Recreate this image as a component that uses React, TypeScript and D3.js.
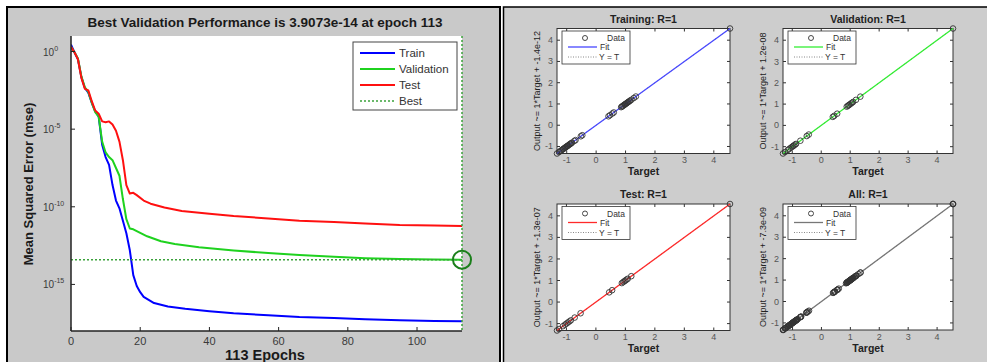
// MATLAB nntool style figure: performance curve on the left, 2x2 regression grid on the right.
import * as d3 from "d3";

const FONT = "'Liberation Sans', Arial, sans-serif";

// ---- performance data (log10 of mse) ----
const trainEpochs = [0, 1, 2, 3, 4, 5, 6, 7, 8, 9, 10, 11, 12, 13, 14, 15, 16, 17, 18, 19, 20, 21, 24, 28, 33, 40, 47, 57, 66, 76, 85, 95, 105, 113];
const trainLog = [0.45, -0.05, -0.5, -1.65, -2.35, -2.65, -3.3, -3.85, -4.2, -6.0, -6.8, -7.3, -8.6, -9.6, -10.1, -10.9, -11.7, -12.8, -14.4, -15.1, -15.5, -15.8, -16.2, -16.42, -16.57, -16.73, -16.86, -16.99, -17.1, -17.16, -17.25, -17.31, -17.35, -17.38];

const valEpochs = [0, 1, 2, 3, 4, 5, 6, 7, 8, 9, 10, 11, 12, 13, 14, 15, 16, 17, 18, 20, 22, 26, 30, 37, 47, 57, 66, 76, 85, 95, 105, 113];
const valLog = [0.3, -0.05, -0.45, -1.6, -2.3, -2.6, -3.3, -3.9, -4.2, -5.8, -6.5, -6.8, -7.0, -7.5, -8.0, -9.5, -10.8, -11.4, -11.45, -11.68, -11.9, -12.22, -12.4, -12.6, -12.81, -12.98, -13.11, -13.22, -13.31, -13.37, -13.4, -13.41];

const testEpochs = [0, 1, 2, 3, 4, 5, 6, 7, 8, 9, 10, 11, 12, 13, 14, 15, 16, 17, 18, 19, 21, 23, 27, 32, 40, 47, 57, 66, 76, 85, 95, 105, 113];
const testLog = [0.3, -0.05, -0.5, -1.7, -2.4, -2.5, -3.2, -3.8, -4.0, -4.5, -4.55, -4.5, -4.7, -5.1, -5.8, -7.0, -8.6, -9.15, -9.1, -9.25, -9.6, -9.8, -10.05, -10.27, -10.45, -10.6, -10.75, -10.9, -10.98, -11.08, -11.17, -11.2, -11.24];

const bestEpoch = 113;
const bestPerf = 3.9073e-14;
const epochTicks = [0, 20, 40, 60, 80, 100];
const mseTickExps = [0, -5, -10, -15];

// ---- regression data (targets; outputs equal targets, R=1) ----
const trainTargets = [-1.33, -1.26, -1.22, -1.18, -1.15, -1.12, -1.1, -1.07, -1.05, -1.03, -1.0, -0.98, -0.96, -0.93, -0.9, -0.88, -0.85, -0.82, -0.74, -0.7, -0.52, -0.47, 0.42, 0.47, 0.55, 0.6, 0.85, 0.88, 0.9, 0.93, 0.96, 0.98, 1.0, 1.03, 1.05, 1.08, 1.1, 1.13, 1.16, 1.2, 1.28, 1.35, 4.55];
const valTargets = [-1.32, -1.25, -1.15, -1.1, -1.05, -1.0, -0.97, -0.94, -0.9, -0.87, -0.72, -0.5, -0.43, 0.4, 0.45, 0.55, 0.88, 0.92, 0.95, 0.98, 1.02, 1.06, 1.1, 1.2, 1.35, 4.55];
const testTargets = [-1.32, -1.25, -1.12, -1.05, -1.0, -0.95, -0.9, -0.85, -0.72, -0.52, 0.45, 0.55, 0.88, 0.93, 0.97, 1.0, 1.04, 1.08, 1.2, 4.55];
const allTargets = [...trainTargets, ...valTargets, ...testTargets];
const regTicks = [-1, 0, 1, 2, 3, 4];

type Pt = [number, number];
const zip = (xs: number[], ys: number[]): Pt[] => xs.map((x, i) => [x, ys[i]]);

function PerfPlot() {
  const L = 71, R = 462, T = 36, B = 331;
  const x = d3.scaleLinear().domain([0, 113]).range([L, R]);
  const y = d3.scaleLog().domain([1e-18, 10]).range([B, T]);
  const line = d3.line<Pt>().x((d) => x(d[0])).y((d) => y(Math.pow(10, d[1])));
  const series = [
    { name: "Train", color: "#0000ff", pts: zip(trainEpochs, trainLog) },
    { name: "Validation", color: "#1fd21f", pts: zip(valEpochs, valLog) },
    { name: "Test", color: "#ff1010", pts: zip(testEpochs, testLog) },
  ];
  const bestY = y(bestPerf);
  const bestColor = "#3aa23a";
  const legend = [...series.map((s) => ({ name: s.name, color: s.color, dash: "" })), { name: "Best", color: bestColor, dash: "2,2" }];
  const lx = 353, ly = 42;
  return (
    <g fontFamily={FONT}>
      <rect x={7} y={7} width={493} height={370} fill="#c9c9c9" stroke="#000" strokeWidth={2} />
      <rect x={L} y={T} width={R - L} height={B - T} fill="#fff" />
      <text x={265} y={27} textAnchor="middle" fontWeight="bold" fontSize={13.5} fill="#1a1a1a">
        Best Validation Performance is 3.9073e-14 at epoch 113
      </text>
      <defs>
        <clipPath id="perfClip"><rect x={L} y={T} width={R - L + 1} height={B - T} /></clipPath>
      </defs>
      <g clipPath="url(#perfClip)">
        {series.map((s) => (
          <path key={s.name} d={line(s.pts) ?? ""} fill="none" stroke={s.color} strokeWidth={2} strokeLinejoin="round" />
        ))}
      </g>
      <line x1={L} x2={R} y1={bestY} y2={bestY} stroke={bestColor} strokeWidth={1.5} strokeDasharray="2,2" />
      <line x1={x(bestEpoch)} x2={x(bestEpoch)} y1={T} y2={B} stroke={bestColor} strokeWidth={1.5} strokeDasharray="2,2" />
      <circle cx={x(bestEpoch)} cy={bestY} r={9} fill="none" stroke="#1b7f1b" strokeWidth={2} />
      {/* axes */}
      <line x1={L} x2={L} y1={T} y2={B} stroke="#222" strokeWidth={1.5} />
      <line x1={L} x2={R} y1={B} y2={B} stroke="#222" strokeWidth={1.5} />
      {epochTicks.map((t) => (
        <g key={t}>
          <line x1={x(t)} x2={x(t)} y1={B} y2={B - 4} stroke="#222" />
          <text x={x(t)} y={345} textAnchor="middle" fontSize={11} fill="#3a3a3a">{t}</text>
        </g>
      ))}
      {mseTickExps.map((e) => (
        <g key={e}>
          <line x1={L} x2={L + 4} y1={y(Math.pow(10, e))} y2={y(Math.pow(10, e))} stroke="#222" />
          <text x={43} y={y(Math.pow(10, e)) + 4} fontSize={10} fill="#3a3a3a">
            10<tspan dy={-5} fontSize={7}>{e}</tspan>
          </text>
        </g>
      ))}
      <text transform="translate(33,184) rotate(-90)" textAnchor="middle" fontWeight="bold" fontSize={13} fill="#1a1a1a">
        Mean Squared Error  (mse)
      </text>
      <text x={265} y={360} textAnchor="middle" fontWeight="bold" fontSize={14.5} fill="#1a1a1a">113 Epochs</text>
      {/* legend */}
      <rect x={lx} y={ly} width={104} height={68} fill="#fff" stroke="#444" strokeWidth={1} />
      {legend.map((d, i) => (
        <g key={d.name} transform={`translate(${lx}, ${ly + 11 + i * 16})`}>
          <line x1={7} x2={42} y1={0} y2={0} stroke={d.color} strokeWidth={d.dash ? 1.5 : 2} strokeDasharray={d.dash} />
          <text x={46} y={4} fontSize={11.5} fill="#333">{d.name}</text>
        </g>
      ))}
    </g>
  );
}

function RegPlot({ x0, y0, w, h, title, label, color, targets }: {
  x0: number; y0: number; w: number; h: number; title: string; label: string; color: string; targets: number[];
}) {
  const ext = d3.extent(targets) as [number, number];
  const x = d3.scaleLinear().domain(ext).range([x0, x0 + w]);
  const y = d3.scaleLinear().domain(ext).range([y0 + h, y0]);
  const lx = x0 + 5, ly = y0 + 2.5;
  return (
    <g fontFamily={FONT}>
      <rect x={x0} y={y0} width={w} height={h} fill="#fff" stroke="#333" strokeWidth={1} />
      <text x={x0 + w / 2} y={y0 - 6} textAnchor="middle" fontWeight="bold" fontSize={10.5} fill="#222">{title}</text>
      {regTicks.map((t) => (
        <g key={t} stroke="#333">
          <line x1={x(t)} x2={x(t)} y1={y0 + h} y2={y0 + h - 3} />
          <line x1={x(t)} x2={x(t)} y1={y0} y2={y0 + 3} />
          <line x1={x0} x2={x0 + 3} y1={y(t)} y2={y(t)} />
          <line x1={x0 + w} x2={x0 + w - 3} y1={y(t)} y2={y(t)} />
          <text x={x(t)} y={y0 + h + 9.5} textAnchor="middle" fontSize={9} fill="#555" stroke="none">{t}</text>
          <text x={x0 - 4} y={y(t) + 3} textAnchor="end" fontSize={9} fill="#555" stroke="none">{t}</text>
        </g>
      ))}
      <line x1={x(ext[0])} x2={x(ext[1])} y1={y(ext[0])} y2={y(ext[1])} stroke="#888" strokeDasharray="1,2" />
      <line x1={x(ext[0])} x2={x(ext[1])} y1={y(ext[0])} y2={y(ext[1])} stroke={color} strokeWidth={1.3} />
      {targets.map((t, i) => (
        <circle key={i} cx={x(t)} cy={y(t)} r={2.8} fill="none" stroke="#333" strokeWidth={0.9} />
      ))}
      <text x={x0 + w / 2} y={y0 + h + 21.5} textAnchor="middle" fontWeight="bold" fontSize={10.5} fill="#222">Target</text>
      <text transform={`translate(${x0 - 17},${y0 + h / 2}) rotate(-90)`} textAnchor="middle" fontSize={9} fill="#222">{label}</text>
      <rect x={lx} y={ly} width={68} height={33} fill="#fff" stroke="#333" strokeWidth={0.8} />
      <circle cx={lx + 23} cy={ly + 7} r={2.5} fill="none" stroke="#333" strokeWidth={0.9} />
      <text x={lx + 45} y={ly + 10} fontSize={8.5} fill="#333">Data</text>
      <line x1={lx + 6} x2={lx + 35} y1={ly + 16} y2={ly + 16} stroke={color} strokeWidth={1.3} />
      <text x={lx + 38} y={ly + 19} fontSize={8.5} fill="#333">Fit</text>
      <line x1={lx + 6} x2={lx + 35} y1={ly + 26} y2={ly + 26} stroke="#888" strokeDasharray="1,1.5" />
      <text x={lx + 37} y={ly + 29} fontSize={8.5} fill="#333">Y = T</text>
    </g>
  );
}

export default function App() {
  return (
    <svg width={987} height={362} style={{ position: "absolute", left: 0, top: 0, background: "#fff" }}>
      <PerfPlot />
      <rect x={503.5} y={7} width={490} height={370} fill="#cdcdcd" stroke="#000" strokeWidth={1.5} />
      <RegPlot x0={557} y0={28.5} w={173} h={125} title="Training: R=1" label="Output ~= 1*Target + -1.4e-12" color="#4848ff" targets={trainTargets} />
      <RegPlot x0={783} y0={28.5} w={170} h={125} title="Validation: R=1" label="Output ~= 1*Target + 1.2e-08" color="#33ee33" targets={valTargets} />
      <RegPlot x0={557} y0={204} w={173} h={126.5} title="Test: R=1" label="Output ~= 1*Target + -1.3e-07" color="#ff2a2a" targets={testTargets} />
      <RegPlot x0={783} y0={204} w={170} h={126} title="All: R=1" label="Output ~= 1*Target + -7.3e-09" color="#777" targets={allTargets} />
    </svg>
  );
}
